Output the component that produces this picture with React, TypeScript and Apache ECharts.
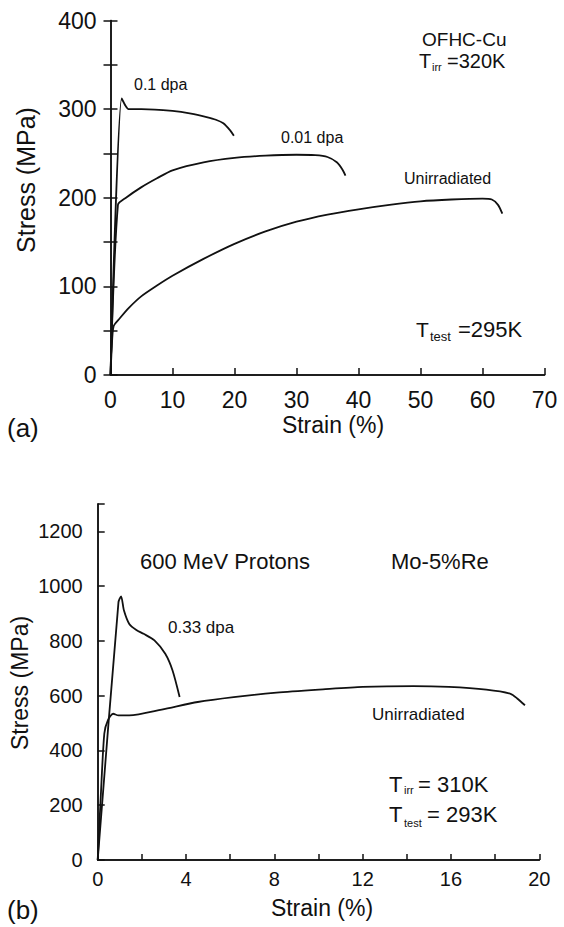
import React, { useEffect, useRef } from "react";
import * as echarts from "echarts";

// Panel (a): OFHC-Cu
const strainA_unirr = [0, 0.2, 0.5, 1.5, 3, 5, 7.5, 10, 15, 20, 25, 30, 35, 40, 45, 50, 55, 60, 61.5, 62.5, 63.2];
const stressA_unirr = [0, 30, 55, 64, 76, 89, 101, 112, 131, 148, 162, 173, 181, 187, 192, 196, 198, 199, 198, 192, 182];
const strainA_001 = [0, 1.2, 2.5, 5, 7.5, 10, 15, 20, 25, 30, 33, 35, 36.5, 37.4, 37.9];
const stressA_001 = [0, 192, 200, 212, 222, 231, 240, 245, 247.5, 248.5, 248, 246, 240, 232, 225];
const strainA_01 = [0, 1.8, 2.4, 2.9, 5, 10, 13, 15.5, 17, 18.2, 19.3, 19.9];
const stressA_01 = [0, 312, 304, 300, 300, 298, 295, 291, 288, 284, 276, 270];

// Panel (b): Mo-5%Re
const strainB_033 = [0, 0.94, 1.06, 1.19, 1.43, 1.75, 2.08, 2.57, 3.06, 3.39, 3.71];
const stressB_033 = [0, 941, 963, 911, 862, 840, 826, 802, 753, 692, 595];
const strainB_unirr = [0, 0.15, 0.3, 0.46, 0.7, 0.94, 1.43, 2.9, 4.53, 6.16, 8.1, 10.2, 12, 14.3, 15.9, 17.6, 18.7, 19.0, 19.35];
const stressB_unirr = [0, 250, 462, 510, 534, 528, 528, 549, 577, 595, 611, 623, 632, 635, 632, 622, 607, 590, 565];

const FONT = "'Liberation Sans', Arial, Helvetica, sans-serif";
const INK = "#111";

const pairs = (xs: number[], ys: number[]) => xs.map((x, i) => [x, ys[i]]);

function txt(text: string, x: number, y: number, size: number, align = "left", rotation = 0) {
  return {
    type: "text",
    x,
    y,
    rotation,
    silent: true,
    style: {
      text,
      fill: INK,
      fontSize: size,
      fontFamily: FONT,
      align,
      verticalAlign: "middle",
      textAlign: align,
      textVerticalAlign: "middle",
    },
  };
}

export default function App() {
  const ref = useRef<HTMLDivElement>(null);
  useEffect(() => {
    document.body.style.margin = "0";
    const chart = echarts.init(ref.current!, null, { renderer: "svg" });
    const axisLine = { show: true, lineStyle: { color: INK, width: 1.5 } };
    const lineSeries = (data: number[][], xi: number, yi: number) => ({
      type: "line",
      data,
      xAxisIndex: xi,
      yAxisIndex: yi,
      symbol: "none",
      showSymbol: false,
      smooth: 0.25,
      lineStyle: { color: INK, width: 1.8 },
      silent: true,
    });
    chart.setOption({
      animation: false,
      backgroundColor: "#fff",
      grid: [
        { left: 110.5, top: 20.5, width: 434, height: 354.5 },
        { left: 97.7, top: 504, width: 441.6, height: 356 },
      ],
      xAxis: [
        {
          gridIndex: 0, type: "value", min: 0, max: 70, interval: 10, position: "bottom",
          axisLine, splitLine: { show: false },
          axisTick: { show: true, inside: true, length: 7, lineStyle: { color: INK, width: 1.5 } },
          axisLabel: { color: INK, fontSize: 23, fontFamily: FONT, margin: 13 },
        },
        {
          gridIndex: 0, type: "value", min: 0, max: 70, position: "top",
          axisLine, splitLine: { show: false }, axisTick: { show: false }, axisLabel: { show: false },
        },
        {
          gridIndex: 1, type: "value", min: 0, max: 20, interval: 2, position: "bottom",
          axisLine, splitLine: { show: false },
          axisTick: { show: true, inside: true, length: 6, lineStyle: { color: INK, width: 1.5 } },
          axisLabel: {
            color: INK, fontSize: 20, fontFamily: FONT, margin: 9,
            formatter: (v: number) => (v % 4 === 0 ? String(v) : ""),
          },
        },
        {
          gridIndex: 1, type: "value", min: 0, max: 20, position: "top",
          axisLine, splitLine: { show: false }, axisTick: { show: false }, axisLabel: { show: false },
        },
      ],
      yAxis: [
        {
          gridIndex: 0, type: "value", min: 0, max: 400, interval: 50, position: "left",
          axisLine, splitLine: { show: false },
          axisTick: { show: true, inside: true, length: 7, lineStyle: { color: INK, width: 1.5 } },
          axisLabel: {
            color: INK, fontSize: 23, fontFamily: FONT, margin: 14,
            formatter: (v: number) => (v % 100 === 0 ? String(v) : ""),
          },
        },
        {
          gridIndex: 0, type: "value", min: 0, max: 400, interval: 50, position: "right",
          axisLine, splitLine: { show: false },
          axisTick: { show: true, inside: true, length: 7, lineStyle: { color: INK, width: 1.5 } },
          axisLabel: { show: false },
        },
        {
          gridIndex: 1, type: "value", min: 0, max: 1300, interval: 200, position: "left",
          axisLine, splitLine: { show: false },
          axisTick: { show: true, inside: true, length: 7, lineStyle: { color: INK, width: 1.5 } },
          axisLabel: {
            color: INK, fontSize: 20, fontFamily: FONT, margin: 15,
            formatter: (v: number) => (v % 200 === 0 && v <= 1200 ? String(v) : ""),
          },
        },
        {
          gridIndex: 1, type: "value", min: 0, max: 1300, position: "right",
          axisLine, splitLine: { show: false }, axisTick: { show: false }, axisLabel: { show: false },
        },
      ],
      series: [
        lineSeries(pairs(strainA_unirr, stressA_unirr), 0, 0),
        lineSeries(pairs(strainA_001, stressA_001), 0, 0),
        lineSeries(pairs(strainA_01, stressA_01), 0, 0),
        lineSeries(pairs(strainB_033, stressB_033), 2, 2),
        lineSeries(pairs(strainB_unirr, stressB_unirr), 2, 2),
      ],
      graphic: [
        // panel (a)
        txt("Stress (MPa)", 26, 180, 25, "center", Math.PI / 2),
        txt("Strain (%)", 333, 425, 23, "center"),
        txt("(a)", 7, 428, 26, "left"),
        txt("OFHC-Cu", 422, 39, 19, "left"),
        txt("T", 419, 61, 20, "left"),
        txt("irr", 432, 67, 11, "left"),
        txt("=320K", 447, 61, 20, "left"),
        txt("0.1 dpa", 134, 84.5, 16, "left"),
        txt("0.01 dpa", 281, 137, 16, "left"),
        txt("Unirradiated", 404, 178, 16, "left"),
        txt("T", 416, 329, 21, "left"),
        txt("test", 430, 336, 13, "left"),
        txt("=295K", 458, 329, 22, "left"),
        // panel (b)
        txt("Stress (MPa)", 20, 683, 23, "center", Math.PI / 2),
        txt("Strain (%)", 322, 907.5, 23, "center"),
        txt("(b)", 7, 910, 26, "left"),
        txt("600 MeV Protons", 140, 561, 22, "left"),
        txt("Mo-5%Re", 391, 561, 22, "left"),
        txt("0.33 dpa", 168, 627.5, 17, "left"),
        txt("Unirradiated", 372, 714, 17, "left"),
        txt("T", 389, 784, 22, "left"),
        txt("irr", 404, 790, 11, "left"),
        txt("= 310K", 418, 784, 22, "left"),
        txt("T", 389, 814, 22, "left"),
        txt("test", 404, 823, 11, "left"),
        txt("= 293K", 427, 814, 22, "left"),
      ],
    });
    return () => chart.dispose();
  }, []);
  return <div ref={ref} style={{ width: 564, height: 927 }} />;
}
